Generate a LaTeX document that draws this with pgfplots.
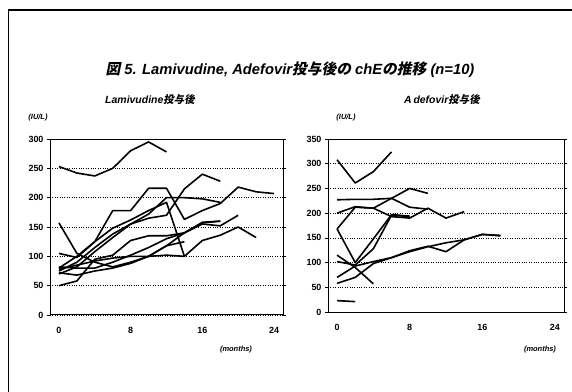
\documentclass[border=0pt]{standalone}
\usepackage{pgfplots}
\pgfplotsset{compat=1.18}
\usepackage{fontspec}
\setmainfont{Liberation Sans}
\newfontfamily\jp{Noto Sans CJK JP Bold}[FakeSlant=0.2]
\begin{document}
\begin{tikzpicture}
\useasboundingbox (0bp,0bp) rectangle (572bp,392bp);
\draw[line width=1.2bp] (8.5bp,0bp) -- (8.5bp,382bp) -- (572bp,382bp);
\node[font=\fontsize{14.8}{16}\selectfont\bfseries\itshape] at (290bp,322bp) {{\jp 図} 5. Lamivudine, Adefovir{\jp 投与後の} chE{\jp の推移} (n=10)};
\node[font=\fontsize{10.5}{12}\selectfont\bfseries\itshape] at (150bp,292bp) {Lamivudine{\jp 投与後}};
\node[font=\fontsize{10.5}{12}\selectfont\bfseries\itshape] at (442bp,292bp) {A\,defovir{\jp 投与後}};
\node[font=\fontsize{7.5}{8}\selectfont\bfseries\itshape] at (38bp,274bp) {(IU/L)};
\node[font=\fontsize{7.5}{8}\selectfont\bfseries\itshape] at (346bp,274bp) {(IU/L)};
\node[font=\fontsize{7.5}{8}\selectfont\bfseries\itshape] at (236bp,42bp) {(months)};
\node[font=\fontsize{7.5}{8}\selectfont\bfseries\itshape] at (540bp,42bp) {(months)};
\pgfplotsset{
  chEaxis/.style={
    scale only axis, anchor=south west,
    xmin=-1, xmax=25, ymin=0,
    xtick={0,8,16,24}, ytick distance=50,
    axis line style={line width=1bp, black},
    tick style={black, line width=0.6bp},
    tick align=outside, major tick length=3bp,
    xtick style={draw=none},
    ymajorgrids, grid style={dotted, black, line width=0.6bp},
    ticklabel style={font=\fontsize{9}{10}\selectfont\bfseries},
    /pgf/number format/assume math mode=true,
    xticklabel style={yshift=-6bp},
    cycle list={black,solid,mark=none\\},
    every axis plot post/.append style={black, solid, line width=1.6bp, mark=none, line join=round},
  }
}
\begin{axis}[chEaxis, at={(50bp,77bp)}, width=233bp, height=176bp, ymax=300]
\addplot coordinates {(0,253)(2,242)(4,237)(6,250)(8,280)(10,295)(12,278)};
\addplot coordinates {(0,157)(2,105)(4,90)(6,82)(8,90)(10,100)(12,118)(14,125)};
\addplot coordinates {(0,50)(2,58)(4,95)(6,102)(8,127)(10,135)(12,135)(14,140)(16,157)(18,160)};
\addplot coordinates {(0,105)(2,98)(4,125)(6,178)(8,178)(10,216)(12,216)(14,163)(16,178)(18,190)(20,218)(22,210)(24,207)};
\addplot coordinates {(0,80)(2,100)(4,125)(6,148)(8,162)(10,178)(12,192)(14,100)(16,127)(18,136)(20,150)(22,132)};
\addplot coordinates {(0,75)(2,90)(4,115)(6,138)(8,155)(10,165)(12,170)(14,215)(16,240)(18,228)};
\addplot coordinates {(0,78)(2,85)(4,92)(6,97)(8,100)(10,100)(12,102)(14,100)};
\addplot coordinates {(0,70)(2,82)(4,108)(6,132)(8,155)(10,172)(12,200)(14,200)(16,198)(18,192)};
\addplot coordinates {(0,72)(2,68)(4,75)(6,80)(8,88)(10,100)(12,118)(14,140)(16,155)(18,152)(20,170)};
\addplot coordinates {(0,82)(2,80)(4,80)(6,90)(8,102)(10,115)(12,130)(14,140)(16,158)(18,160)};
\end{axis}
\begin{axis}[chEaxis, at={(328bp,80bp)}, width=236bp, height=173bp, ymax=350]
\addplot coordinates {(0,308)(2,261)(4,284)(6,324)};
\addplot coordinates {(0,227)(2,228)(4,228)(6,230)(8,250)(10,240)};
\addplot coordinates {(0,200)(2,213)(4,210)(6,193)(8,190)(10,210)(12,190)(14,203)};
\addplot coordinates {(0,168)(2,212)(4,210)(6,230)(8,212)(10,208)};
\addplot coordinates {(0,168)(2,100)(4,148)(6,197)(8,194)};
\addplot coordinates {(0,115)(2,90)(4,57)};
\addplot coordinates {(0,102)(2,95)(4,128)(6,196)(8,193)};
\addplot coordinates {(0,70)(2,93)(4,102)(6,110)(8,122)(10,132)(12,140)(14,146)(16,157)(18,154)};
\addplot coordinates {(0,58)(2,70)(4,98)(6,110)(8,124)(10,133)(12,122)(14,146)(16,157)(18,155)};
\addplot coordinates {(0,23)(2,21)};
\end{axis}
\end{tikzpicture}
\end{document}
